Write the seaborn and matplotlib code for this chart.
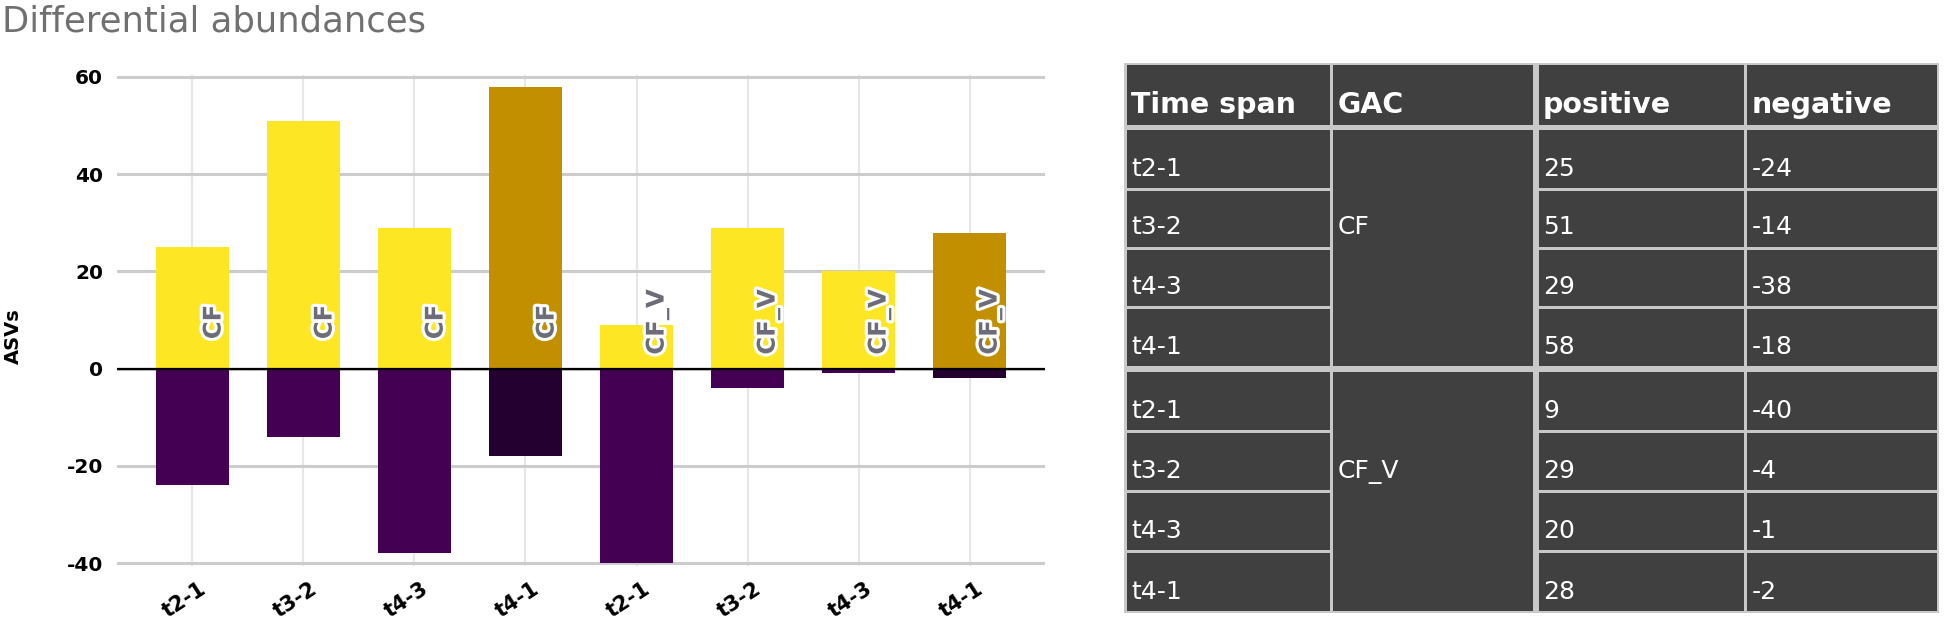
import numpy as np
import pandas as pd
import matplotlib
matplotlib.use("Agg")
import matplotlib.pyplot as plt
import matplotlib.patheffects as pe
from matplotlib.patches import Rectangle
from matplotlib.transforms import ScaledTranslation
import seaborn as sns

# ---------------- data ----------------
title = "Differential abundances"
time_spans = ["t2-1", "t3-2", "t4-3", "t4-1", "t2-1", "t3-2", "t4-3", "t4-1"]
gac = ["CF", "CF", "CF", "CF", "CF_V", "CF_V", "CF_V", "CF_V"]
positive = [25, 51, 29, 58, 9, 29, 20, 28]
negative = [-24, -14, -38, -18, -40, -4, -1, -2]
y_ticks = [-40, -20, 0, 20, 40, 60]
table_header = ["Time span", "GAC", "positive", "negative"]

pos_colors = ["#FDE725", "#FDE725", "#FDE725", "#C18F00",
              "#FDE725", "#FDE725", "#FDE725", "#C18F00"]
neg_colors = ["#440154", "#440154", "#440154", "#23002F",
              "#440154", "#440154", "#440154", "#23002F"]

sns.set_theme(style="white")
plt.rcParams['font.family'] = ['DejaVu Sans']

keys = [f"{g}|{t}" for g, t in zip(gac, time_spans)]
df = pd.DataFrame({"key": keys, "positive": positive, "negative": negative})

W, H = 1955, 621
fig = plt.figure(figsize=(W / 100, H / 100), dpi=100)
fig.patch.set_facecolor("white")

ax = fig.add_axes([117 / W, 1 - 566 / H, (1045 - 117) / W, (566 - 75) / H])
common = dict(x="key", hue="key", order=keys, hue_order=keys, saturation=1,
              width=0.66, legend=False, errorbar=None, ax=ax, linewidth=0, zorder=2)
sns.barplot(data=df, y="positive", palette=pos_colors, **common)
sns.barplot(data=df, y="negative", palette=neg_colors, **common)

ax.set_xlim(-0.68, 7.68)
ax.set_ylim(-40.6, 60.4)
ax.set_yticks(y_ticks)
ax.set_yticklabels([str(v) for v in y_ticks], fontweight="bold")
ax.set_xticks(range(len(keys)))
ax.set_xticklabels(time_spans, rotation=33, ha="center", fontweight="bold")
ax.set_axisbelow(True)
ax.yaxis.grid(True, color="#cccccc", lw=2.2)
ax.xaxis.grid(True, color="#e6e6e6", lw=1.5)
ax.axhline(0, color="black", lw=1.6, zorder=3)
for s in ax.spines.values():
    s.set_visible(False)
ax.tick_params(axis="y", length=0, labelsize=14.5, pad=10, labelcolor="black")
ax.tick_params(axis="x", length=0, labelsize=15, pad=9, labelcolor="black")
shift = ScaledTranslation(-8 / 100, 0, fig.dpi_scale_trans)
for lbl in ax.get_xticklabels():
    lbl.set_transform(lbl.get_transform() + shift)
ax.set_xlabel("")
ax.set_ylabel("ASVs", fontsize=14, fontweight="bold", color="black")
ax.yaxis.set_label_coords(-0.101, 0.468)

for i, g in enumerate(gac):
    ax.text(i + 0.19, 9.6, g, rotation=90, ha="center", va="center",
            fontsize=17.5, fontweight="bold", color="#6d6d7a", zorder=4,
            path_effects=[pe.withStroke(linewidth=4.5, foreground="white")])

fig.text(2 / W, 1 - 4 / H, title, ha="left", va="top", fontsize=25.5, color="#707070")

# ---------------- table ----------------
tax = fig.add_axes([0, 0, 1, 1])
tax.set_xlim(0, W)
tax.set_ylim(H, 0)
tax.axis("off")
tax.patch.set_alpha(0)

col_x = [1126, 1332, 1536, 1746, 1937]
line_c = "#c8c8c8"
cell_c = "#404040"
tax.add_patch(Rectangle((1124, 63), 1939 - 1124, 613 - 63, facecolor=line_c, edgecolor="none"))

def cell(x0, x1, y0, y1):
    tax.add_patch(Rectangle((x0, y0), x1 - x0, y1 - y0, facecolor=cell_c, edgecolor="none"))

def col_bounds(c):
    x0 = col_x[c] + (1.5 if c != 2 else 3)
    x1 = col_x[c + 1] - (1.5 if c != 1 else 3)
    if c == 0:
        x0 = col_x[0] + 1
    if c == 3:
        x1 = col_x[4]
    return x0, x1

# header
hy0, hy1 = 65, 125
for c, name in enumerate(table_header):
    x0, x1 = col_bounds(c)
    cell(x0, x1, hy0, hy1)
    tax.text(x0 + 4, hy1 - 12, name, color="white", fontsize=20.5,
             fontweight="bold", ha="left", va="baseline")

groups = [(0, 130, 366), (4, 372, 611)]
for start, gy0, gy1 in groups:
    rh = (gy1 - gy0) / 4
    x0, x1 = col_bounds(1)
    cell(x0, x1, gy0, gy1)
    tax.text(x0 + 4, gy0 + 2 * rh - 1.5 - 12, gac[start], color="white",
             fontsize=18, ha="left", va="baseline")
    for k in range(4):
        i = start + k
        y0 = gy0 + k * rh + (0 if k == 0 else 1.5)
        y1 = gy0 + (k + 1) * rh - (0 if k == 3 else 1.5)
        vals = [time_spans[i], None, str(positive[i]), str(negative[i])]
        for c in (0, 2, 3):
            x0, x1 = col_bounds(c)
            cell(x0, x1, y0, y1)
            tax.text(x0 + 4, y1 - 12, vals[c], color="white", fontsize=18,
                     ha="left", va="baseline")

fig.savefig("out.png", dpi=100)
